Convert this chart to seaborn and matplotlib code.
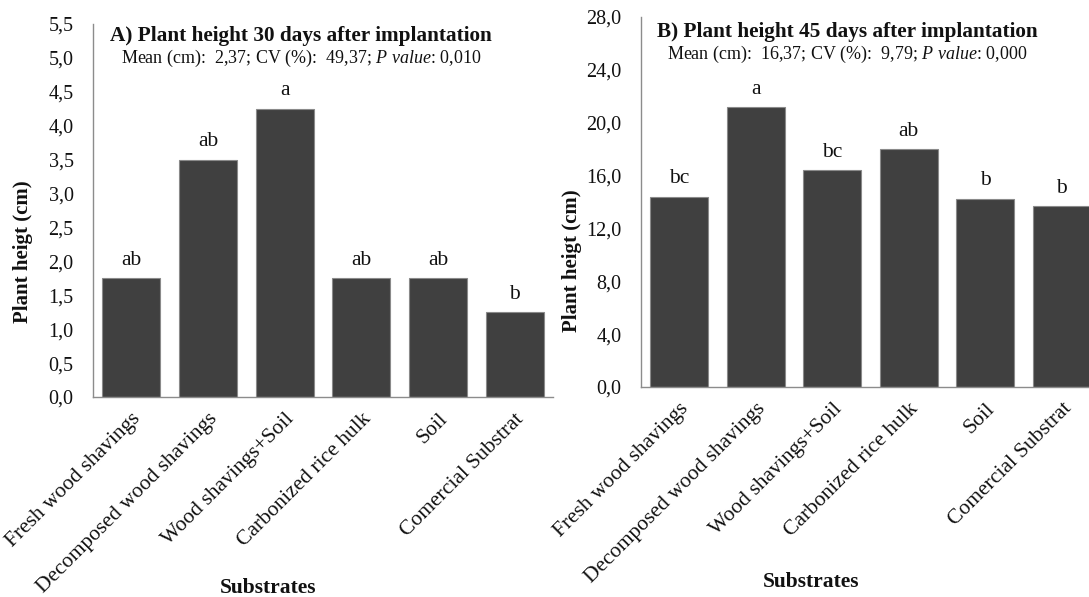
import matplotlib
matplotlib.use("Agg")
import matplotlib.pyplot as plt
import seaborn as sns
import pandas as pd
from matplotlib.ticker import FuncFormatter, FixedLocator

# Substrates tested and mean plant heights (cm)
substrates = [
    "Fresh wood shavings",
    "Decomposed wood shavings",
    "Wood shavings+Soil",
    "Carbonized rice hulk",
    "Soil",
    "Comercial Substrat",
]
height_30d = [1.75, 3.50, 4.25, 1.75, 1.75, 1.25]
letters_30d = ["ab", "ab", "a", "ab", "ab", "b"]
height_45d = [14.4, 21.2, 16.4, 18.0, 14.25, 13.7]
letters_45d = ["bc", "a", "bc", "ab", "b", "b"]

sns.set_theme(style="white")
plt.rcParams["font.family"] = ["Liberation Serif", "DejaVu Serif"]
plt.rcParams["mathtext.fontset"] = "custom"
plt.rcParams["mathtext.rm"] = "Liberation Serif"
plt.rcParams["mathtext.it"] = "Liberation Serif:italic"

BAR = "#404040"
EDGE = "#8a8a8a"
SPINE = "#8c8c8c"
TXT = "#111111"

fig = plt.figure(figsize=(10.89, 5.97), dpi=100)
axA = fig.add_axes([0.0854, 0.335, 0.4224, 0.6248])
axB = fig.add_axes([0.5886, 0.3518, 0.4215, 0.6198])

comma = FuncFormatter(lambda v, p: f"{v:.1f}".replace(".", ","))


def panel(ax, values, letters, ymax, ystep, title, subtitle, title_pos, sub_y,
          ylab_pos, xlab_pos):
    df = pd.DataFrame({"substrate": substrates, "height": values})
    sns.barplot(data=df, x="substrate", y="height", color=BAR, width=0.76,
                edgecolor=EDGE, linewidth=0.8, saturation=1, ax=ax)
    ax.set_xlim(-0.5, len(substrates) - 0.5)
    ax.set_ylim(0, ymax)
    n = int(round(ymax / ystep))
    ax.yaxis.set_major_locator(FixedLocator([i * ystep for i in range(n + 1)]))
    ax.yaxis.set_major_formatter(comma)
    # category boundaries carry the tick marks, labels sit on category centers
    ax.xaxis.set_major_locator(FixedLocator([i - 0.5 for i in range(len(substrates) + 1)]))
    ax.xaxis.set_major_formatter(FuncFormatter(lambda v, p: ""))
    ax.xaxis.set_minor_locator(FixedLocator(list(range(len(substrates)))))
    ax.set_xticklabels(substrates, minor=True)
    ax.tick_params(axis="x", which="major", direction="out", length=6,
                   width=0.9, color=SPINE)
    ax.tick_params(axis="x", which="minor", length=0, pad=9)
    for lab in ax.get_xticklabels(minor=True):
        lab.set_rotation(45)
        lab.set_ha("right")
        lab.set_va("top")
        lab.set_rotation_mode("anchor")
        lab.set_fontsize(15.5)
        lab.set_color(TXT)
    ax.tick_params(axis="y", direction="in", length=6, width=0.9, color=SPINE,
                   labelsize=14.5, labelcolor=TXT, pad=14)
    for side in ["top", "right"]:
        ax.spines[side].set_visible(False)
    for side in ["left", "bottom"]:
        ax.spines[side].set_color(SPINE)
        ax.spines[side].set_linewidth(1.0)
    ax.grid(False)

    for i, (v, t) in enumerate(zip(values, letters)):
        ax.annotate(t, (i, v), xytext=(0, 12.8), textcoords="offset points",
                    ha="center", va="center", fontsize=15.5, color=TXT)

    ax.text(title_pos[0], title_pos[1], title, transform=ax.transAxes,
            ha="center", va="center", fontsize=15.3, fontweight="bold", color=TXT)
    ax.text(title_pos[0], sub_y, subtitle, transform=ax.transAxes,
            ha="center", va="center", fontsize=13, color=TXT)

    ax.set_ylabel("Plant heigt (cm)", fontsize=15, fontweight="bold", color=TXT)
    ax.yaxis.set_label_coords(*ylab_pos)
    ax.set_xlabel("Substrates", fontsize=15.5, fontweight="bold", color=TXT)
    ax.xaxis.set_label_coords(*xlab_pos)


panel(axA, height_30d, letters_30d, 5.5, 0.5,
      "A) Plant height 30 days after implantation",
      r"Mean (cm):  2,37; CV (%):  49,37; $\mathit{P\ value}$: 0,010",
      (0.452, 0.968), 0.909, (-0.130, 0.39), (0.38, -0.485))
panel(axB, height_45d, letters_45d, 28.0, 4.0,
      "B) Plant height 45 days after implantation",
      r"Mean (cm):  16,37; CV (%):  9,79; $\mathit{P\ value}$: 0,000",
      (0.449, 0.959), 0.90, (-0.128, 0.34), (0.37, -0.50))

fig.savefig("out.png", dpi=100)
